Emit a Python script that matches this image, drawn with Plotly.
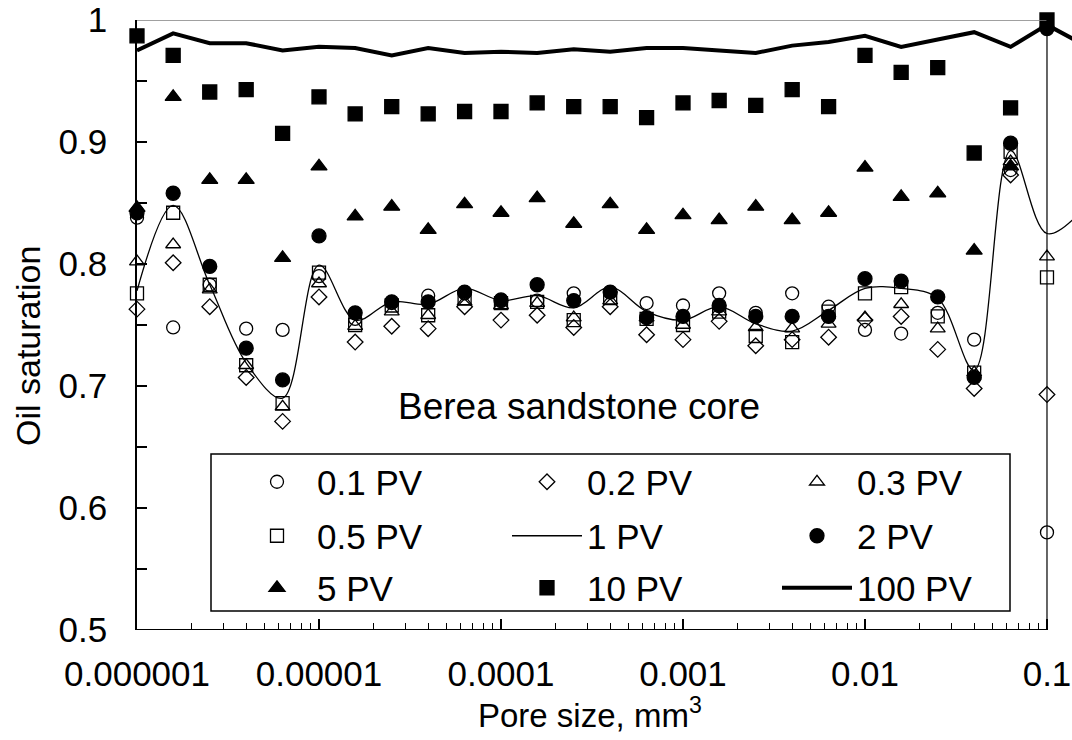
import plotly.graph_objects as go

# ---- data ----
pore = [1.0e-6, 1.58e-6, 2.51e-6, 3.98e-6, 6.31e-6,
        1.0e-5, 1.58e-5, 2.51e-5, 3.98e-5, 6.31e-5,
        1.0e-4, 1.58e-4, 2.51e-4, 3.98e-4, 6.31e-4,
        1.0e-3, 1.58e-3, 2.51e-3, 3.98e-3, 6.31e-3,
        1.0e-2, 1.58e-2, 2.51e-2, 3.98e-2, 6.31e-2,
        1.0e-1]
pore_ext = pore + [0.158]

pv01 = [0.838, 0.748, 0.783, 0.747, 0.746, 0.790, 0.755, 0.768, 0.774, 0.776,
        0.771, 0.770, 0.776, 0.777, 0.768, 0.766, 0.776, 0.760, 0.776, 0.765,
        0.746, 0.743, 0.760, 0.738, 0.877, 0.580]
pv02 = [0.763, 0.801, 0.765, 0.707, 0.671, 0.773, 0.736, 0.749, 0.747, 0.765,
        0.754, 0.758, 0.748, 0.765, 0.742, 0.738, 0.753, 0.733, 0.738, 0.740,
        0.754, 0.757, 0.730, 0.698, 0.873, 0.693]
pv03 = [0.802, 0.816, 0.779, 0.717, 0.683, 0.784, 0.749, 0.761, 0.758, 0.769,
        0.766, 0.768, 0.756, 0.770, 0.756, 0.750, 0.761, 0.748, 0.747, 0.751,
        0.756, 0.767, 0.747, 0.711, 0.884, 0.806]
pv05 = [0.776, 0.842, 0.783, 0.717, 0.686, 0.793, 0.750, 0.766, 0.758, 0.772,
        0.768, 0.769, 0.754, 0.772, 0.755, 0.750, 0.761, 0.741, 0.736, 0.761,
        0.776, 0.781, 0.757, 0.711, 0.892, 0.789]
pv1 = [0.778, 0.848, 0.783, 0.719, 0.690, 0.799, 0.754, 0.769, 0.767, 0.780,
       0.770, 0.774, 0.764, 0.781, 0.761, 0.754, 0.765, 0.751, 0.745, 0.762,
       0.780, 0.780, 0.772, 0.713, 0.893, 0.825, 0.845]
pv2 = [0.842, 0.858, 0.798, 0.731, 0.705, 0.823, 0.760, 0.769, 0.769, 0.777,
       0.770, 0.783, 0.770, 0.777, 0.756, 0.757, 0.766, 0.757, 0.757, 0.757,
       0.788, 0.786, 0.773, 0.707, 0.899, 0.993]
pv5 = [0.846, 0.937, 0.869, 0.869, 0.805, 0.880, 0.839, 0.847, 0.828, 0.849,
       0.842, 0.854, 0.833, 0.849, 0.828, 0.840, 0.836, 0.847, 0.836, 0.842,
       0.879, 0.855, 0.858, 0.811, 0.880, 0.995]
pv10 = [0.987, 0.971, 0.941, 0.943, 0.907, 0.937, 0.923, 0.929, 0.923, 0.925,
        0.925, 0.932, 0.929, 0.929, 0.920, 0.932, 0.934, 0.930, 0.943, 0.929,
        0.971, 0.957, 0.961, 0.891, 0.928, 1.000]
pv100 = [0.975, 0.989, 0.981, 0.981, 0.975, 0.978, 0.977, 0.971, 0.977, 0.973,
         0.974, 0.973, 0.976, 0.974, 0.977, 0.977, 0.975, 0.973, 0.979, 0.982,
         0.987, 0.978, 0.984, 0.990, 0.978, 0.996, 0.980]

x_tickvals = [1e-6, 1e-5, 1e-4, 1e-3, 1e-2, 1e-1]
x_ticktext = ["0.000001", "0.00001", "0.0001", "0.001", "0.01", "0.1"]
y_tickvals = [0.5, 0.6, 0.7, 0.8, 0.9, 1.0]
y_ticktext = ["0.5", "0.6", "0.7", "0.8", "0.9", "1"]

FONT = "Liberation Sans, Arial, sans-serif"
BLACK = "black"

fig = go.Figure()

def markers(name, y, symbol, size, legend):
    fig.add_trace(go.Scatter(
        x=pore, y=y, name=name, mode="markers", cliponaxis=False,
        legend=legend,
        marker=dict(symbol=symbol, size=size, color=BLACK,
                    line=dict(color=BLACK, width=1.3)),
    ))

# row 1 of legend
markers("0.1 PV", pv01, "circle-open", 13, "legend")
markers("0.2 PV", pv02, "diamond-open", 12, "legend")
markers("0.3 PV", pv03, "triangle-up-open", 13, "legend")
# row 2
markers("0.5 PV", pv05, "square-open", 13, "legend2")
fig.add_trace(go.Scatter(
    x=pore_ext, y=pv1, name="1 PV", mode="lines", legend="legend2",
    line=dict(color=BLACK, width=1.3, shape="spline", smoothing=1.0),
))
markers("2 PV", pv2, "circle", 14, "legend2")
# row 3
markers("5 PV", pv5, "triangle-up", 14, "legend3")
markers("10 PV", pv10, "square", 14, "legend3")
fig.add_trace(go.Scatter(
    x=pore_ext, y=pv100, name="100 PV", mode="lines", legend="legend3",
    line=dict(color=BLACK, width=4),
))

minor_x = [m * 10.0 ** e for e in range(-6, 0) for m in range(2, 10)]

W, H = 1072, 740
L, R, T, B = 137, 0, 20, 110
pw = W - L - R
ph = H - T - B

def px_x(p):
    return (p - L) / pw

def px_y(p):
    return (H - B - p) / ph

def row_legend(ypx):
    return dict(
        orientation="h", x=px_x(237), y=px_y(ypx), xanchor="left", yanchor="middle",
        bgcolor="rgba(0,0,0,0)", borderwidth=0,
        entrywidth=185, entrywidthmode="pixels", itemwidth=70,
        font=dict(family=FONT, size=35, color=BLACK),
        traceorder="normal",
    )

fig.update_layout(
    width=W, height=H,
    margin=dict(l=L, r=R, t=T, b=B, pad=0),
    paper_bgcolor="white", plot_bgcolor="white",
    font=dict(family=FONT, size=34, color=BLACK),
    showlegend=True,
    legend=row_legend(482),
    legend2=row_legend(536),
    legend3=row_legend(588),
    xaxis=dict(
        type="log", range=[-6, -0.8626], showgrid=False, zeroline=False,
        showline=False,
        tickmode="array", tickvals=x_tickvals, ticktext=x_ticktext,
        ticks="inside", ticklen=11, tickwidth=1.5, tickcolor=BLACK,
        ticklabelstandoff=20,
        tickfont=dict(family=FONT, size=35, color=BLACK),
        minor=dict(tickmode="array", tickvals=minor_x, ticks="inside",
                   ticklen=7, tickwidth=1.2, tickcolor=BLACK, showgrid=False),
    ),
    yaxis=dict(
        range=[0.5, 1.0], showgrid=False, zeroline=False,
        showline=True, linecolor=BLACK, linewidth=1.5, mirror=False,
        tickmode="array", tickvals=y_tickvals, ticktext=y_ticktext,
        ticks="inside", ticklen=10, tickwidth=1.5, tickcolor=BLACK,
        ticklabelstandoff=21,
        tickfont=dict(family=FONT, size=35, color=BLACK),
        minor=dict(dtick=0.05, tick0=0.5, ticks="inside", ticklen=10,
                   tickwidth=1.5, tickcolor=BLACK, showgrid=False),
    ),
    shapes=[
        # bottom axis line up to 0.1
        dict(type="line", xref="x", yref="y", x0=1e-6, x1=0.1, y0=0.5, y1=0.5,
             line=dict(color=BLACK, width=2.2)),
        # top border
        dict(type="line", xref="x", yref="y", x0=1e-6, x1=0.1, y0=1.0, y1=1.0,
             line=dict(color="#808080", width=1.5)),
        # right border at 0.1
        dict(type="line", xref="x", yref="y", x0=0.1, x1=0.1, y0=0.5, y1=1.0,
             line=dict(color=BLACK, width=1.2)),
        # legend box
        dict(type="rect", xref="paper", yref="paper",
             x0=px_x(211), x1=px_x(1010), y0=px_y(611), y1=px_y(454),
             line=dict(color=BLACK, width=1.5), fillcolor="white", layer="below"),
    ],
    annotations=[
        dict(text="Berea sandstone core", xref="paper", yref="paper",
             x=px_x(579), y=px_y(406), xanchor="center", yanchor="middle",
             showarrow=False, font=dict(family=FONT, size=37, color=BLACK)),
        dict(text="Pore size, mm<sup>3</sup>", xref="paper", yref="paper",
             x=px_x(590), y=px_y(713), xanchor="center", yanchor="middle",
             showarrow=False, font=dict(family=FONT, size=33, color=BLACK)),
        dict(text="Oil saturation", xref="paper", yref="paper",
             x=px_x(28), y=px_y(346), xanchor="center", yanchor="middle",
             textangle=-90, showarrow=False,
             font=dict(family=FONT, size=34, color=BLACK)),
    ],
)

fig.write_html("out.html")
